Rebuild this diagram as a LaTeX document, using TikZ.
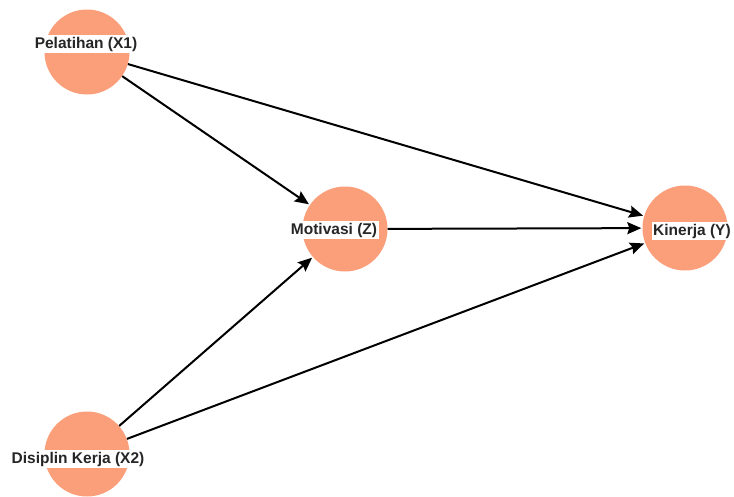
\documentclass[tikz,border=0pt]{standalone}
\usepackage{fontspec}
\setmainfont{Liberation Sans}
\usetikzlibrary{arrows.meta}
\definecolor{nodefill}{HTML}{FA9F79}
\tikzset{
  var/.style={circle, fill=nodefill, minimum size=85pt, inner sep=0pt},
  lbl/.style={fill=white, inner sep=1.5pt, font=\bfseries\fontsize{15.5}{15.5}\selectfont, text=black!85},
  path/.style={draw=black, line width=2pt, -{Stealth[length=14pt, width=12pt, inset=2pt]}, shorten >=1pt}
}
\begin{document}
\begin{tikzpicture}[x=1pt, y=-1pt]
  \useasboundingbox (0,0) rectangle (734,496);
  % variables
  \node[var] (x1) at (87,52) {};
  \node[var] (z)  at (345,229) {};
  \node[var] (y)  at (685,228) {};
  \node[var] (x2) at (87,454) {};
  % paths between variables
  \draw[path] (x1) -- (z);
  \draw[path] (x1) -- (y);
  \draw[path] (x2) -- (z);
  \draw[path] (x2) -- (y);
  \draw[path] (z) -- (y);
  % labels
  \node[lbl] (lx1) at (86,44) {Pelatihan (X1)};
  \node[lbl] (lz)  at (334,230) {Motivasi (Z)};
  \node[lbl] (ly)  at (692,231) {Kinerja (Y)};
  \node[lbl] (lx2) at (78,459) {Disiplin Kerja (X2)};
\end{tikzpicture}
\end{document}
